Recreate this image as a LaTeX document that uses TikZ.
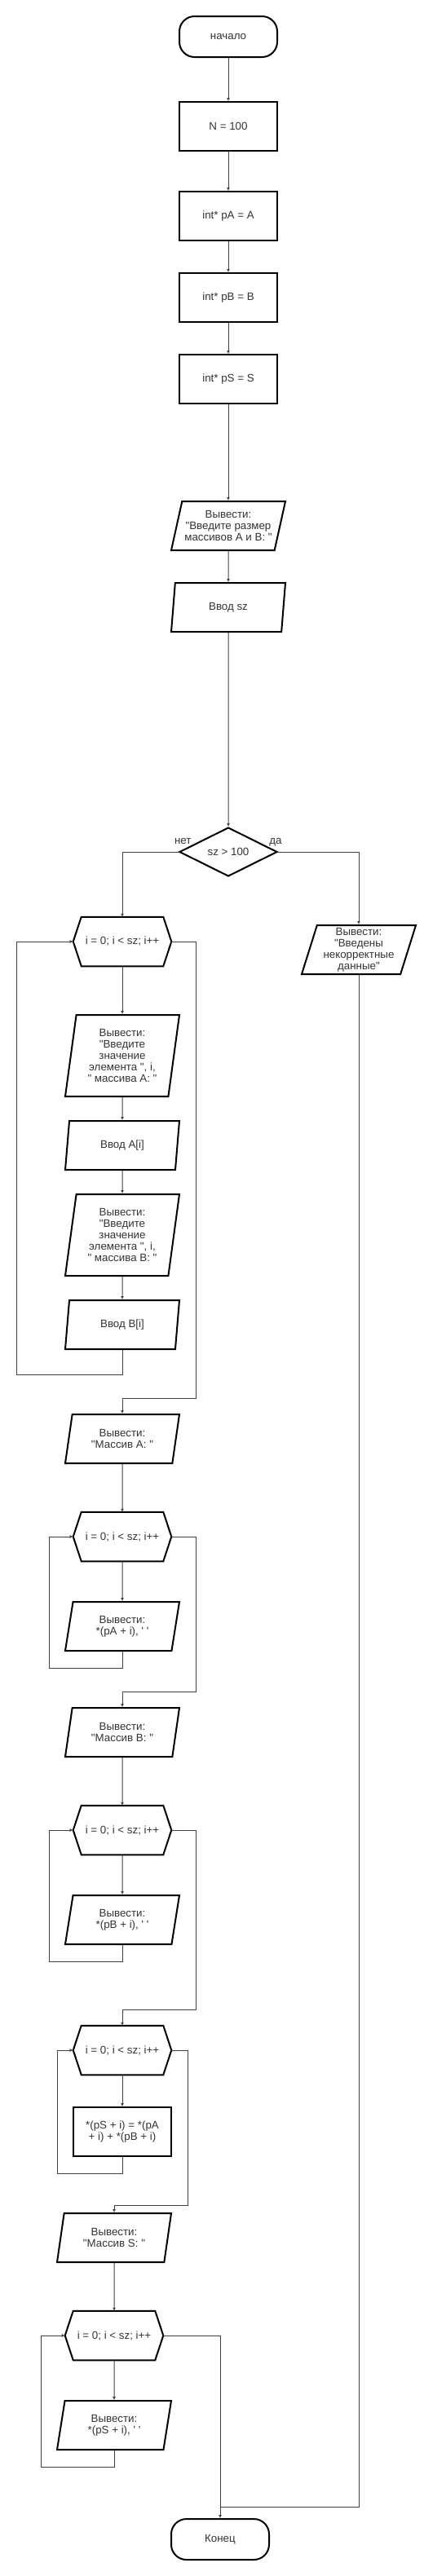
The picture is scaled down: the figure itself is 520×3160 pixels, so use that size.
\documentclass[tikz,border=0pt]{standalone}
\usepackage{fontspec}
\setmainfont{Liberation Sans}[Ligatures=TeXOff]
\usepackage{tikz}
\usetikzlibrary{arrows.meta,positioning,shapes.geometric,calc}
\definecolor{chartInk}{HTML}{333333}
\definecolor{chartLine}{HTML}{404040}
\newcommand{\chartfont}{\fontsize{10}{10.5}\selectfont}
\tikzset{
  term/.style={draw=black, line width=1.5pt, rounded corners=14pt,
        minimum width=90pt, minimum height=37.5pt, align=center,
        font=\chartfont, text=chartInk},
  proc/.style={draw=black, line width=1.5pt,
        minimum width=90pt, minimum height=45pt, align=center,
        inner sep=1pt, font=\chartfont, text=chartInk},
  io/.style={draw=black, line width=1.5pt, trapezium,
        trapezium left angle=71.57, trapezium right angle=108.43,
        trapezium stretches body, minimum width=105pt, minimum height=45pt,
        inner sep=1pt, align=center, font=\chartfont, text=chartInk},
  iotall/.style={io, trapezium left angle=78.69, trapezium right angle=101.31,
        minimum height=75pt},
  dec/.style={draw=black, line width=1.5pt, diamond, aspect=2, inner sep=0pt,
        minimum width=90pt, minimum height=45pt, align=center,
        font=\chartfont, text=chartInk},
  loopbox/.style={minimum width=90pt, minimum height=45pt, inner sep=1pt,
        align=center, font=\chartfont, text=chartInk,
        append after command={\pgfextra{\draw[draw=black, line width=1.5pt]
          ([xshift=7.5pt]\tikzlastnode.north west)
          -- ([xshift=-7.5pt]\tikzlastnode.north east) -- (\tikzlastnode.east)
          -- ([xshift=-7.5pt]\tikzlastnode.south east)
          -- ([xshift=7.5pt]\tikzlastnode.south west) -- (\tikzlastnode.west)
          -- cycle;}}},
  flab/.style={font=\chartfont, text=chartInk, inner sep=1pt}
}

\begin{document}
\begin{tikzpicture}[x=0.75pt, y=-0.75pt,
  flow/.style={-{Latex[length=3pt,width=3pt]}, line width=0.75pt, draw=chartLine},
  link/.style={line width=0.75pt, draw=chartLine}
]
\useasboundingbox (0,0) rectangle (520,3160);

% main column
\node[term] (start) at (280,45)  {начало};
\node[proc] (nval)  at (280,155) {N = 100};
\node[proc] (pa)    at (280,265) {int* pA = A};
\node[proc] (pb)    at (280,365) {int* pB = B};
\node[proc] (ps)    at (280,465) {int* pS = S};
\node[io, inner xsep=-6pt] (ask) at (280,645) {Вывести:\\"Введите размер\\массивов А и В: "};
\node[io]   (insz)  at (280,745) {Ввод sz};
\node[dec]  (chk)   at (280,1045) {sz > 100};

% error branch
\node[io] (err) at (440,1165) {Вывести:\\"Введены\\некорректные\\данные"};

% input loop
\node[loopbox] (h1)   at (150,1155) {i = 0; i < sz; i++};
\node[iotall]  (askA) at (150,1295) {Вывести:\\"Введите\\значение\\элемента ", i,\\" массива А: "};
\node[io]      (inA)  at (150,1405) {Ввод A[i]};
\node[iotall]  (askB) at (150,1515) {Вывести:\\"Введите\\значение\\элемента ", i,\\" массива В: "};
\node[io]      (inB)  at (150,1625) {Ввод B[i]};

% print A
\node[io]      (msgA) at (150,1765) {Вывести:\\"Массив А: "};
\node[loopbox] (h2)   at (150,1885) {i = 0; i < sz; i++};
\node[io]      (outA) at (150,1995) {Вывести:\\*(pA + i), ' '};

% print B
\node[io]      (msgB) at (150,2125) {Вывести:\\"Массив В: "};
\node[loopbox] (h3)   at (150,2245) {i = 0; i < sz; i++};
\node[io]      (outB) at (150,2355) {Вывести:\\*(pB + i), ' '};

% sum
\node[loopbox] (h4)   at (150,2515) {i = 0; i < sz; i++};
\node[proc]    (sum)  at (150,2615) {*(pS + i) = *(pA\\+ i) + *(pB + i)};

% print S
\node[io]      (msgS) at (140,2745) {Вывести:\\"Массив S: "};
\node[loopbox] (h5)   at (140,2865) {i = 0; i < sz; i++};
\node[io]      (outS) at (140,2975) {Вывести:\\*(pS + i), ' '};

% end
\node[term] (fin) at (270,3115) {Конец};
\coordinate (join) at (270,3075);

% straight flows
\foreach \a/\b in {start/nval,nval/pa,pa/pb,pb/ps,ps/ask,ask/insz,insz/chk,
                   h1/askA,askA/inA,inA/askB,askB/inB,msgA/h2,h2/outA,
                   msgB/h3,h3/outB,h4/sum,msgS/h5,h5/outS}
  \draw[flow] (\a) -- (\b);

% decision
\draw[flow] (chk.west) node[flab, anchor=base, xshift=4pt, yshift=7pt] (lno) {нет} -| (h1.north);
\draw[flow] (chk.east) node[flab, anchor=base, xshift=-2.25pt, yshift=7pt] (lyes) {да} -| (err.north);
\draw[link] (err.south) |- (join);

% loop returns and exits
\draw[flow] (inB.south) -- ++(0,30) -- ++(-130,0) |- (h1.west);
\draw[flow] (h1.east) -- ++(30,0) -- ++(0,560) -| (msgA.north);
\draw[flow] (outA.south) -- ++(0,20) -- ++(-90,0) |- (h2.west);
\draw[flow] (h2.east) -- ++(30,0) -- ++(0,190) -| (msgB.north);
\draw[flow] (outB.south) -- ++(0,20) -- ++(-90,0) |- (h3.west);
\draw[flow] (h3.east) -- ++(30,0) -- ++(0,220) -| (h4.north);
\draw[flow] (sum.south) -- ++(0,20) -- ++(-80,0) |- (h4.west);
\draw[flow] (h4.east) -- ++(20,0) -- ++(0,190) -| (msgS.north);
\draw[flow] (outS.south) -- ++(0,20) -- ++(-90,0) |- (h5.west);
\draw[flow] (h5.east) -| (fin.north);
\end{tikzpicture}
\end{document}
